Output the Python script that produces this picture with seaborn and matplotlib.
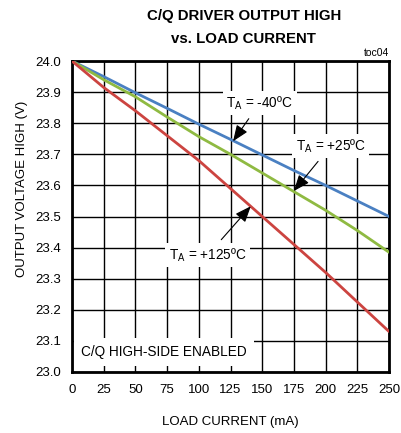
import numpy as np
import pandas as pd
import matplotlib
matplotlib.use("Agg")
import matplotlib.pyplot as plt
import seaborn as sns

# load current (mA) and output voltage high (V) per temperature
current = [0, 25, 50, 75, 100, 125, 150, 175, 200, 225, 250]
v_m40 = [24.0, 23.95, 23.898, 23.848, 23.797, 23.748, 23.698, 23.648, 23.6, 23.55, 23.5]
v_p25 = [24.0, 23.94, 23.885, 23.82, 23.757, 23.70, 23.64, 23.58, 23.52, 23.455, 23.385]
v_p125 = [24.0, 23.915, 23.84, 23.76, 23.68, 23.59, 23.50, 23.41, 23.32, 23.225, 23.13]
temps = ["-40", "+25", "+125"]
colors = {"-40": "#4a80c2", "+25": "#8fba42", "+125": "#cc4440"}

df = pd.DataFrame({
    "current": current * 3,
    "voltage": v_m40 + v_p25 + v_p125,
    "temp": [t for t in temps for _ in current],
})

sns.set_style("white")
plt.rcParams['font.family'] = ['Liberation Sans', 'DejaVu Sans']
plt.rcParams['text.color'] = 'black'
plt.rcParams['axes.labelcolor'] = 'black'
plt.rcParams['xtick.color'] = 'black'
plt.rcParams['ytick.color'] = 'black'

fig = plt.figure(figsize=(4.01, 4.33), dpi=100)
ax = fig.add_axes([0.1796, 0.141, 0.7905, 0.718])

sns.lineplot(data=df, x="current", y="voltage", hue="temp", palette=colors,
             linewidth=2, legend=False, ax=ax, zorder=3)

ax.set_xlim(0, 250)
ax.set_ylim(23.0, 24.0)
ax.set_xticks(np.arange(0, 251, 25))
ax.set_yticks(np.arange(23.0, 24.01, 0.1))
ax.set_yticklabels(["%.1f" % v for v in np.arange(23.0, 24.01, 0.1)])
ax.tick_params(axis="both", length=0, labelsize=9.5)
ax.tick_params(axis="y", pad=8)
ax.tick_params(axis="x", pad=9)
ax.grid(True, color="black", linewidth=1)
ax.set_axisbelow(True)
for s in ax.spines.values():
    s.set_visible(True)
    s.set_color("black")
    s.set_linewidth(2)

ax.set_xlabel("LOAD CURRENT (mA)", fontsize=9.5, labelpad=14)
ax.set_ylabel("OUTPUT VOLTAGE HIGH (V)", fontsize=9.5)
ax.yaxis.set_label_coords(-0.14, 0.59)

fig.text(0.608, 0.962, "C/Q DRIVER OUTPUT HIGH", ha="center", va="center",
         fontsize=10.8, fontweight="bold")
fig.text(0.608, 0.911, "vs. LOAD CURRENT", ha="center", va="center",
         fontsize=10.8, fontweight="bold")
ax.text(1.0, 1.01, "toc04", transform=ax.transAxes, ha="right", va="bottom", fontsize=7.5)

box = dict(facecolor="white", edgecolor="none", pad=2.5)
arrow = dict(arrowstyle="-|>,head_length=1.0,head_width=0.4", color="black", lw=0.8,
             shrinkA=3, shrinkB=0)

ax.annotate("T$_\\mathregular{A}$ = -40ºC", xy=(127, 23.742), xytext=(148, 23.865),
            ha="center", va="center", fontsize=9.8, bbox=box, arrowprops=arrow, zorder=4)
ax.annotate("T$_\\mathregular{A}$ = +25ºC", xy=(175, 23.582), xytext=(204, 23.727),
            ha="center", va="center", fontsize=9.8, bbox=box, arrowprops=arrow, zorder=4)
ax.annotate("T$_\\mathregular{A}$ = +125ºC", xy=(141, 23.533), xytext=(107, 23.376),
            ha="center", va="center", fontsize=9.8, bbox=box, arrowprops=arrow, zorder=4)
ax.text(72.5, 23.064, "C/Q HIGH-SIDE ENABLED", ha="center", va="center", fontsize=9.8,
        bbox=dict(facecolor="white", edgecolor="none", pad=5), zorder=4)

fig.savefig("out.png", dpi=100)
